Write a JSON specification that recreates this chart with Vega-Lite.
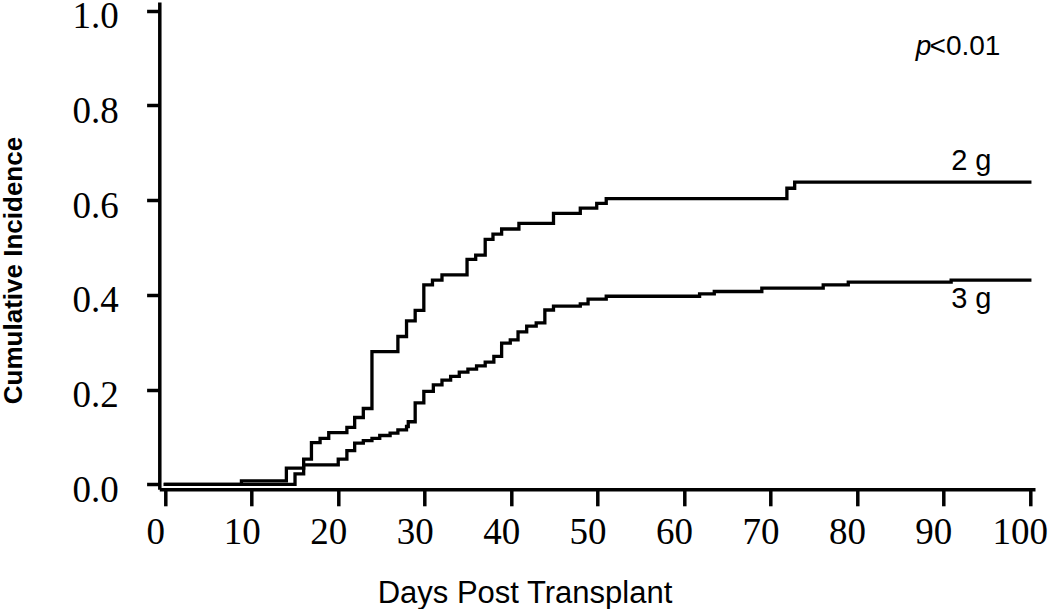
{
  "$schema": "https://vega.github.io/schema/vega-lite/v6.json",
  "width": 875.7,
  "height": 487.3,
  "autosize": {"type": "none"},
  "padding": {"left": 159.3, "top": 2, "right": 15, "bottom": 119.7},
  "background": "white",
  "config": {"view": {"stroke": null}},
  "datasets": {
    "curves": [
      {"group": "2 g", "day": 0, "inc": 0},
      {"group": "2 g", "day": 8.8, "inc": 0.007},
      {"group": "2 g", "day": 14.0, "inc": 0.034},
      {"group": "2 g", "day": 16.0, "inc": 0.053},
      {"group": "2 g", "day": 16.9, "inc": 0.088},
      {"group": "2 g", "day": 17.9, "inc": 0.097},
      {"group": "2 g", "day": 18.9, "inc": 0.109},
      {"group": "2 g", "day": 21.0, "inc": 0.12},
      {"group": "2 g", "day": 21.9, "inc": 0.141},
      {"group": "2 g", "day": 22.9, "inc": 0.16},
      {"group": "2 g", "day": 23.9, "inc": 0.28},
      {"group": "2 g", "day": 26.9, "inc": 0.312},
      {"group": "2 g", "day": 27.9, "inc": 0.345},
      {"group": "2 g", "day": 28.9, "inc": 0.367},
      {"group": "2 g", "day": 29.9, "inc": 0.421},
      {"group": "2 g", "day": 30.9, "inc": 0.431},
      {"group": "2 g", "day": 32.0, "inc": 0.442},
      {"group": "2 g", "day": 34.9, "inc": 0.475},
      {"group": "2 g", "day": 35.9, "inc": 0.484},
      {"group": "2 g", "day": 37.0, "inc": 0.517},
      {"group": "2 g", "day": 37.9, "inc": 0.528},
      {"group": "2 g", "day": 38.9, "inc": 0.539},
      {"group": "2 g", "day": 40.9, "inc": 0.551},
      {"group": "2 g", "day": 44.9, "inc": 0.572},
      {"group": "2 g", "day": 48.0, "inc": 0.583},
      {"group": "2 g", "day": 49.9, "inc": 0.593},
      {"group": "2 g", "day": 51.0, "inc": 0.603},
      {"group": "2 g", "day": 71.9, "inc": 0.625},
      {"group": "2 g", "day": 72.8, "inc": 0.638},
      {"group": "2 g", "day": 100, "inc": 0.638},
      {"group": "3 g", "day": 0, "inc": 0},
      {"group": "3 g", "day": 15.0, "inc": 0.022},
      {"group": "3 g", "day": 16.0, "inc": 0.041},
      {"group": "3 g", "day": 20.0, "inc": 0.053},
      {"group": "3 g", "day": 21.0, "inc": 0.071},
      {"group": "3 g", "day": 21.9, "inc": 0.087},
      {"group": "3 g", "day": 22.9, "inc": 0.092},
      {"group": "3 g", "day": 23.9, "inc": 0.097},
      {"group": "3 g", "day": 24.8, "inc": 0.103},
      {"group": "3 g", "day": 26.0, "inc": 0.108},
      {"group": "3 g", "day": 26.9, "inc": 0.115},
      {"group": "3 g", "day": 27.9, "inc": 0.122},
      {"group": "3 g", "day": 28.1, "inc": 0.132},
      {"group": "3 g", "day": 28.9, "inc": 0.172},
      {"group": "3 g", "day": 29.9, "inc": 0.196},
      {"group": "3 g", "day": 31.0, "inc": 0.21},
      {"group": "3 g", "day": 32.0, "inc": 0.22},
      {"group": "3 g", "day": 33.0, "inc": 0.228},
      {"group": "3 g", "day": 34.0, "inc": 0.237},
      {"group": "3 g", "day": 35.0, "inc": 0.243},
      {"group": "3 g", "day": 36.0, "inc": 0.25},
      {"group": "3 g", "day": 37.0, "inc": 0.258},
      {"group": "3 g", "day": 38.0, "inc": 0.27},
      {"group": "3 g", "day": 38.9, "inc": 0.298},
      {"group": "3 g", "day": 39.9, "inc": 0.305},
      {"group": "3 g", "day": 40.8, "inc": 0.322},
      {"group": "3 g", "day": 41.8, "inc": 0.334},
      {"group": "3 g", "day": 42.9, "inc": 0.341},
      {"group": "3 g", "day": 43.9, "inc": 0.368},
      {"group": "3 g", "day": 44.9, "inc": 0.376},
      {"group": "3 g", "day": 48.0, "inc": 0.381},
      {"group": "3 g", "day": 48.9, "inc": 0.391},
      {"group": "3 g", "day": 51.0, "inc": 0.397},
      {"group": "3 g", "day": 61.8, "inc": 0.402},
      {"group": "3 g", "day": 63.5, "inc": 0.407},
      {"group": "3 g", "day": 69.0, "inc": 0.414},
      {"group": "3 g", "day": 76.1, "inc": 0.421},
      {"group": "3 g", "day": 79.0, "inc": 0.427},
      {"group": "3 g", "day": 90.9, "inc": 0.431},
      {"group": "3 g", "day": 100, "inc": 0.431}
    ],
    "series_labels": [
      {"text": "2 g", "day": 90.9, "inc": 0.664},
      {"text": "3 g", "day": 90.9, "inc": 0.372}
    ],
    "pvalue": [
      {"text": "<0.01", "day": 88.4, "inc": 0.906}
    ],
    "pletter": [
      {"text": "p", "day": 86.8, "inc": 0.906}
    ]
  },
  "layer": [
    {
      "data": {"name": "curves"},
      "mark": {"type": "line", "interpolate": "step-after", "color": "black", "strokeWidth": 3.3, "strokeCap": "square"},
      "encoding": {
        "x": {
          "field": "day", "type": "quantitative",
          "scale": {"domain": [-0.7, 100.6], "nice": false, "zero": false},
          "axis": {
            "values": [0, 10, 20, 30, 40, 50, 60, 70, 80, 90, 100],
            "grid": false,
            "domainColor": "black", "domainWidth": 3.5,
            "tickColor": "black", "tickWidth": 3.5, "tickSize": 16.5,
            "labelFont": "Liberation Serif", "labelFontSize": 37, "labelColor": "black",
            "labelPadding": 9, "labelOffset": -10, "labelFlush": false, "labelOverlap": false,
            "title": "Days Post Transplant",
            "titleFont": "Liberation Sans", "titleFontSize": 31, "titleFontWeight": "normal", "titleColor": "black",
            "titleX": 365.2, "titleY": 113.4, "titleBaseline": "alphabetic", "titleAlign": "center"
          }
        },
        "y": {
          "field": "inc", "type": "quantitative",
          "scale": {"domain": [-0.0106, 1.0183], "nice": false, "zero": false},
          "axis": {
            "values": [0, 0.2, 0.4, 0.6, 0.8, 1.0],
            "format": ".1f",
            "grid": false,
            "domainColor": "black", "domainWidth": 3.5,
            "tickColor": "black", "tickWidth": 3.5, "tickSize": 12.7,
            "labelFont": "Liberation Serif", "labelFontSize": 37, "labelColor": "black",
            "labelPadding": 28.4, "labelOffset": 6, "labelFlush": false, "labelOverlap": false,
            "title": "Cumulative Incidence",
            "titleFont": "Liberation Sans", "titleFontSize": 26, "titleFontWeight": "bold", "titleColor": "black",
            "titleAngle": 270, "titleX": -137.5, "titleY": 268, "titleBaseline": "alphabetic", "titleAlign": "center"
          }
        },
        "detail": {"field": "group", "type": "nominal"}
      }
    },
    {
      "data": {"name": "series_labels"},
      "mark": {"type": "text", "align": "left", "baseline": "alphabetic", "font": "Liberation Sans", "fontSize": 29, "color": "black"},
      "encoding": {
        "x": {"field": "day", "type": "quantitative"},
        "y": {"field": "inc", "type": "quantitative"},
        "text": {"field": "text", "type": "nominal"}
      }
    },
    {
      "data": {"name": "pvalue"},
      "mark": {"type": "text", "align": "left", "baseline": "alphabetic", "font": "Liberation Sans", "fontSize": 28, "color": "black"},
      "encoding": {
        "x": {"field": "day", "type": "quantitative"},
        "y": {"field": "inc", "type": "quantitative"},
        "text": {"field": "text", "type": "nominal"}
      }
    },
    {
      "data": {"name": "pletter"},
      "mark": {"type": "text", "align": "left", "baseline": "alphabetic", "font": "Liberation Sans", "fontSize": 28, "fontStyle": "italic", "color": "black"},
      "encoding": {
        "x": {"field": "day", "type": "quantitative"},
        "y": {"field": "inc", "type": "quantitative"},
        "text": {"field": "text", "type": "nominal"}
      }
    }
  ]
}
